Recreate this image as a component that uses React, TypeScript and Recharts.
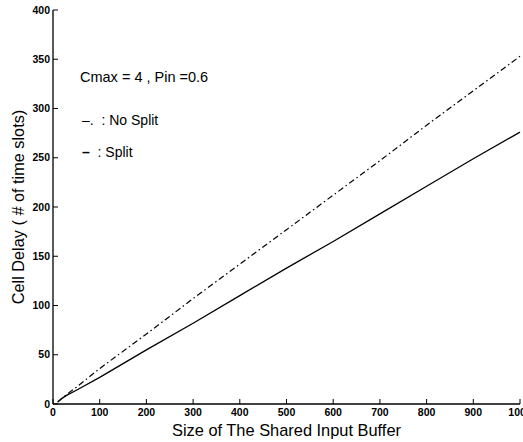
import { LineChart, Line, XAxis, YAxis } from "recharts";

// values
const bufferSizes = [10, 20, 30, 50, 100, 200, 300, 400, 500, 600, 700, 800, 900, 1000];
const noSplitDelay = [2, 6, 10, 17, 36, 71, 107, 142, 177, 212, 247, 283, 318, 353];
const splitDelay = [2, 6, 9, 14, 27, 55, 82, 110, 138, 165, 193, 221, 249, 276];

const xTicks = [0, 100, 200, 300, 400, 500, 600, 700, 800, 900, 1000];
const yTicks = [0, 50, 100, 150, 200, 250, 300, 350, 400];

const data = bufferSizes.map((x, i) => ({ x, noSplit: noSplitDelay[i], split: splitDelay[i] }));

const FONT = "Arial, 'Liberation Sans', Helvetica, sans-serif";
const tickStyle = { fill: "#000", fontSize: 10.5, fontWeight: 700, fontFamily: FONT };

function YTitle(props: any) {
  const vb = props.viewBox ?? { x: 0, y: 10, width: 53, height: 394 };
  const cy = vb.y + vb.height / 2;
  return (
    <text
      x={18}
      y={cy}
      transform={`rotate(-90 18 ${cy})`}
      textAnchor="middle"
      dominantBaseline="central"
      fontSize={16.3}
      fontFamily={FONT}
      fill="#000"
    >
      Cell Delay ( # of time slots)
    </text>
  );
}

function XTitle(props: any) {
  const vb = props.viewBox ?? { x: 53, y: 404, width: 467, height: 38 };
  const cx = vb.x + vb.width / 2;
  return (
    <text x={cx} y={436} textAnchor="middle" fontSize={16.4} fontFamily={FONT} fill="#000">
      Size of The Shared Input Buffer
    </text>
  );
}

export default function App() {
  return (
    <div style={{ position: "absolute", left: 0, top: 0, width: 523, height: 442, background: "#fff" }}>
      <LineChart width={523} height={442} data={data} margin={{ top: 10, right: 3, bottom: 0, left: 0 }}>
        <XAxis
          dataKey="x"
          type="number"
          domain={[0, 1000]}
          ticks={xTicks}
          interval={0}
          tick={tickStyle}
          tickSize={-5}
          tickMargin={10}
          height={38}
          axisLine={{ stroke: "#000", strokeWidth: 1.3 }}
          tickLine={{ stroke: "#000" }}
          label={{ content: <XTitle /> }}
        />
        <XAxis
          xAxisId="top"
          orientation="top"
          dataKey="x"
          type="number"
          domain={[0, 1000]}
          ticks={xTicks}
          interval={0}
          tick={false}
          tickSize={-5}
          height={0}
          axisLine={{ stroke: "#000", strokeWidth: 1.3 }}
          tickLine={{ stroke: "#000" }}
        />
        <YAxis
          type="number"
          domain={[0, 400]}
          ticks={yTicks}
          interval={0}
          tick={tickStyle}
          tickSize={-5}
          tickMargin={8}
          width={53}
          axisLine={{ stroke: "#000", strokeWidth: 1.3 }}
          tickLine={{ stroke: "#000" }}
          label={{ content: <YTitle /> }}
        />
        <Line
          dataKey="noSplit"
          stroke="#000"
          strokeWidth={1.2}
          strokeDasharray="6 3 1.5 3"
          dot={false}
          isAnimationActive={false}
        />
        <Line
          dataKey="split"
          stroke="#000"
          strokeWidth={1.3}
          dot={false}
          isAnimationActive={false}
        />
      </LineChart>
      <div style={{ position: "absolute", left: 80, top: 68, fontFamily: FONT, fontSize: 14.5, lineHeight: "18px" }}>
        Cmax = 4 , Pin =0.6
      </div>
      <div style={{ position: "absolute", left: 82, top: 111, fontFamily: FONT, fontSize: 14, lineHeight: "18px" }}>
        –.&nbsp; : No Split
      </div>
      <div style={{ position: "absolute", left: 82, top: 143, fontFamily: FONT, fontSize: 14, lineHeight: "18px" }}>
        <b>–</b>&nbsp; : Split
      </div>
    </div>
  );
}
